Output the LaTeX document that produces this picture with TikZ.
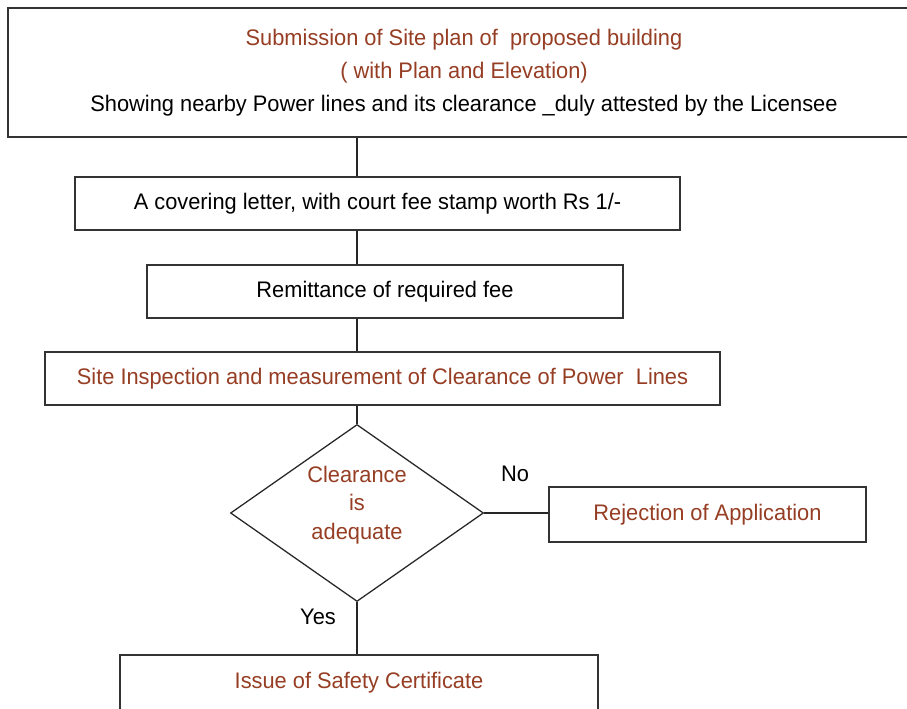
\documentclass[tikz,border=0pt]{standalone}
\usepackage{fontspec}
\setmainfont{Liberation Sans}[FakeStretch=0.97]
\usetikzlibrary{shapes.geometric}
\definecolor{sitebrown}{RGB}{150,62,36}
\tikzstyle{stage} = [rectangle, draw = black!80, line width = 1.1pt, text centered, minimum height = 1.325cm, font = \fontsize{16}{23.5}\selectfont]
\tikzstyle{decision} = [diamond, draw = black!85, line width = 0.9pt, inner sep = 0pt, minimum width = 6.325cm, minimum height = 4.425cm]
\tikzstyle{decisiontext} = [align = center, text = sitebrown, yshift = 0.2cm, font = \fontsize{16}{20.3}\selectfont]
\tikzstyle{answer} = [font = \fontsize{16}{18}\selectfont]
\tikzstyle{link} = [black!85, line width = 0.9pt]

\begin{document}
\begin{tikzpicture}

\clip (0,0) rectangle (22.675,-17.725);
\fill[white] (0,0) rectangle (22.675,-17.725);

\node (sub) [stage, minimum width = 22.8cm, minimum height = 3.225cm, align = center] at (11.6,-1.8125)
  {\textcolor{sitebrown}{Submission of Site plan of~ proposed building}\\
   \textcolor{sitebrown}{( with Plan and Elevation)}\\
   Showing nearby Power lines and its clearance \_duly attested by the Licensee};
\node (cover) [stage, minimum width = 15.125cm] at (9.4375,-5.0875) {A covering letter, with court fee stamp worth Rs 1/-};
\node (fee) [stage, minimum width = 11.9cm] at (9.625,-7.2875) {Remittance of required fee};
\node (insp) [stage, minimum width = 16.875cm, text = sitebrown] at (9.5625,-9.4625) {Site Inspection and measurement of Clearance of Power~ Lines};
\node (dec1) [decision, label = {[decisiontext]center:Clearance\\is\\adequate}] at (8.925,-12.825) {};
\node (rej) [stage, minimum width = 7.925cm, minimum height = 1.375cm, text = sitebrown] at (17.6875,-12.8625) {Rejection of Application};
\node (cert) [stage, minimum width = 11.95cm, minimum height = 1.4cm, text = sitebrown] at (8.975,-17.075) {Issue of Safety Certificate};

\node (no) [answer] at (12.875,-11.85) {No};
\node (yes) [answer] at (7.95,-15.425) {Yes};

%% connectors
\draw [link] (sub.south -| dec1) -- (cover.north -| dec1);
\draw [link] (cover.south -| dec1) -- (fee.north -| dec1);
\draw [link] (fee.south -| dec1) -- (insp.north -| dec1);
\draw [link] (insp.south -| dec1) -- (dec1.north);
\draw [link] (dec1.east) -- (dec1.east -| rej.west);
\draw [link] (dec1.south) -- (cert.north -| dec1);

\end{tikzpicture}
\end{document}
